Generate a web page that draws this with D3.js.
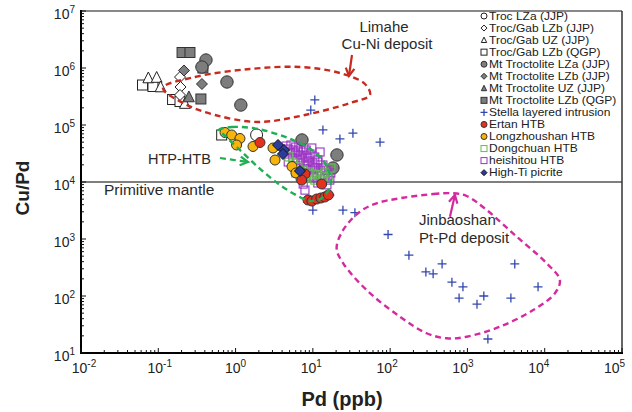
<!DOCTYPE html>
<html>
<head>
<meta charset="utf-8">
<script src="https://cdn.jsdelivr.net/npm/d3@7"></script>
<style>
  body { margin: 0; background: #fff; }
  svg { display: block; font-family: "Liberation Sans", Arial, Helvetica, sans-serif; }
</style>
</head>
<body>
<svg id="chart" width="632" height="412"></svg>
<script>
// values: [Pd (ppb), Cu/Pd]
const trocLZa = [[1.87, 6.7e4]];
const trocGabLZbJJP = [[0.191, 6.95e5], [0.194, 4.64e5], [0.191, 3.36e5]];
const trocGabUZ = [[0.0743, 6.68e5], [0.0953, 6.81e5], [0.107, 4.64e5], [0.221, 2.38e5]];
const trocGabLZbQGP = [[0.0625, 5.03e5], [0.0853, 4.74e5], [0.153, 2.8e5], [0.191, 2.58e5], [0.661, 6.68e4]];
const mtLZa = [[0.414, 1.38e6], [0.367, 1.04e6], [0.774, 5.68e5], [1.17, 2.24e5],
  [7.23, 5.46e4], [20.5, 2.98e4], [18.2, 1.76e4]];
const mtLZbJJP = [[0.215, 9.04e5], [0.367, 5.24e5]];
const mtUZ = [[0.249, 3.1e5]];
const mtLZbQGP = [[0.203, 1.87e6], [0.257, 1.87e6], [0.378, 1.0e6], [0.356, 2.86e5]];
const stella = [[10.6, 2.75e5], [9.4, 1.83e5], [13.5, 8.2e4], [22.4, 5.7e4], [33, 7.2e4], [74, 5.0e4],
  [10.0, 3.2e3], [24.5, 3.2e3], [35, 2.9e3], [16.6, 5.9e3], [94, 1.2e3], [175, 520], [290, 265],
  [360, 245], [470, 365], [630, 175], [875, 145], [780, 92], [1630, 100], [1330, 72], [4100, 365],
  [3650, 92], [8200, 145], [1840, 17.6]];
const ertan = [[2.07, 4.93e4], [7.91, 1.38e4], [13.0, 9.22e3], [8.65, 4.83e3], [9.73, 4.64e3],
  [11.2, 5.03e3], [12.7, 5.24e3], [14.3, 5.46e3], [15.9, 5.92e3], [7.16, 1.08e4]];
const longzhoushan = [[0.73, 7.38e4], [0.891, 6.68e4], [1.14, 5.8e4], [1.03, 4.46e4], [1.68, 4.2e4],
  [3.05, 3.95e4], [3.24, 2.43e4], [5.37, 1.87e4], [6.04, 1.44e4]];
const dongchuan = [[5.5, 2.15e4], [6.4, 1.83e4], [7.5, 1.62e4], [8.7, 1.5e4], [10.0, 1.38e4],
  [11.6, 1.33e4], [13.5, 1.27e4], [15.7, 1.22e4], [6.0, 1.44e4], [7.9, 1.18e4], [10.6, 1.08e4],
  [14.3, 1.44e4], [17.1, 1.76e4], [4.9, 2.75e4], [6.8, 1.27e4]];
const heishitou = [[4.5, 4.28e4], [5.2, 4.46e4], [6.0, 4.11e4], [7.0, 3.95e4], [8.2, 3.64e4],
  [9.7, 3.95e4], [5.1, 3.36e4], [5.9, 3.23e4], [6.8, 2.98e4], [7.9, 2.86e4], [9.2, 3.1e4],
  [10.6, 2.75e4], [12.4, 3.36e4], [5.5, 2.64e4], [6.4, 2.43e4], [7.5, 2.24e4], [8.7, 2.34e4],
  [10.0, 2.15e4], [11.6, 2.24e4], [13.5, 1.99e4], [4.8, 2.24e4], [6.8, 1.76e4], [8.2, 1.69e4],
  [9.4, 1.62e4], [11.0, 1.76e4], [12.7, 1.56e4], [14.8, 1.62e4], [17.1, 1.44e4], [8.9, 1.27e4],
  [10.3, 1.22e4], [12.4, 1.27e4], [14.3, 1.18e4], [16.6, 1.08e4], [7.5, 9.2e3], [11.6, 9.6e3],
  [15.2, 8.9e3], [7.9, 7.2e3], [4.76, 3.79e4], [5.53, 3.64e4], [6.41, 3.5e4], [7.45, 3.36e4],
  [8.65, 2.64e4], [11.6, 2.43e4], [10.0, 1.83e4], [13.5, 1.76e4], [15.7, 1.33e4], [11.3, 1.44e4],
  [8.39, 1.99e4], [7.23, 2.64e4]];
const highTiPicrite = [[3.54, 4.46e4], [4.23, 3.64e4], [4.1, 3.1e4], [6.81, 1.56e4]];

// field outlines, same units
const limaheField = [[0.115, 4.46e5], [0.299, 6.95e5], [1.53, 9.6e5], [6.81, 1.04e6], [22.4, 8.17e5],
  [47.2, 5.24e5], [54.8, 3.36e5], [30.2, 2.43e5], [7.91, 1.5e5], [1.95, 1.13e5], [0.542, 1.5e5],
  [0.221, 2.34e5]];
const htpField = [[0.61, 8.17e4], [0.897, 9.22e4], [1.95, 8.5e4], [4.76, 5.91e4], [9.73, 3.64e4],
  [14.8, 1.99e4], [17.1, 9.22e3], [13.1, 5.24e3], [9.17, 4.64e3], [6.41, 5.68e3], [3.75, 8.86e3],
  [1.95, 1.83e4], [1.07, 3.95e4], [0.708, 6.68e4]];
const jinbaoshanField = [[134, 5.18e3], [361, 6.15e3], [655, 6.34e3], [977, 5.68e3], [1770, 3.23e3],
  [4330, 1.1e3], [10600, 375], [15700, 191], [13500, 111], [7100, 56.8], [2630, 28.9], [977, 19.3],
  [538, 18.1], [297, 22.2], [134, 43.3], [49.7, 127], [24.7, 375], [20.3, 687], [24.7, 1440],
  [40.6, 3010], [66.8, 4230]];
const limaheArrow = [[32.1, 1.69e6], [29.3, 7.24e5]];
const htpArrow = [[0.628, 2.64e4], [1.45, 2.24e4]];
const jinbaoshanArrow = [[594, 2460], [689, 5920]];

const xTicks = [-2, -1, 0, 1, 2, 3, 4, 5];
const yTicks = [1, 2, 3, 4, 5, 6, 7];
const primitiveMantle = 1e4;

const series = [
  { name: "Troc LZa (JJP)", data: trocLZa, shape: "circle", fill: "#fff", stroke: "#222", r: 6 },
  { name: "Troc/Gab LZb (JJP)", data: trocGabLZbJJP, shape: "diamond", fill: "#fff", stroke: "#222", r: 5.5 },
  { name: "Troc/Gab UZ (JJP)", data: trocGabUZ, shape: "triangle", fill: "#fff", stroke: "#222", r: 6 },
  { name: "Troc/Gab LZb (QGP)", data: trocGabLZbQGP, shape: "square", fill: "#fff", stroke: "#222", r: 5 },
  { name: "Mt Troctolite LZa (JJP)", data: mtLZa, shape: "circle", fill: "#7d7d7d", stroke: "#333", r: 6.2 },
  { name: "Mt Troctolite LZb (JJP)", data: mtLZbJJP, shape: "diamond", fill: "#7d7d7d", stroke: "#333", r: 5.5 },
  { name: "Mt Troctolite UZ (JJP)", data: mtUZ, shape: "triangle", fill: "#7d7d7d", stroke: "#333", r: 6 },
  { name: "Mt Troctolite LZb (QGP)", data: mtLZbQGP, shape: "square", fill: "#7d7d7d", stroke: "#333", r: 5 },
  { name: "Stella layered intrusion", data: stella, shape: "plus", fill: "none", stroke: "#3347b0", r: 4.5 },
  { name: "Ertan HTB", data: ertan, shape: "circle", fill: "#e2311f", stroke: "#333", r: 5 },
  { name: "Longzhoushan HTB", data: longzhoushan, shape: "circle", fill: "#f7b40c", stroke: "#333", r: 5 },
  { name: "Dongchuan HTB", data: dongchuan, shape: "square", fill: "none", stroke: "#5cc34a", r: 4 },
  { name: "heishitou HTB", data: heishitou, shape: "square", fill: "none", stroke: "#9a34c4", r: 4 },
  { name: "High-Ti picrite", data: highTiPicrite, shape: "diamond", fill: "#2b3d9c", stroke: "#111", r: 5.5 }
];
// which series go on top of which
const drawOrder = [8, 3, 2, 1, 0, 7, 6, 5, 4, 12, 11, 10, 9, 13];

const plot = { left: 81, right: 622, top: 11, bottom: 353 };

const svg = d3.select("#chart");
const x = d3.scaleLog().domain([1e-2, 1e5]).range([plot.left, plot.right]);
const y = d3.scaleLog().domain([10, 1e7]).range([plot.bottom, plot.top]);

function marker(g, shape, cx, cy, r, fill, stroke, sw) {
    if (shape === "circle") {
        g.append("circle").attr("cx", cx).attr("cy", cy).attr("r", r)
            .attr("fill", fill).attr("stroke", stroke).attr("stroke-width", sw);
    } else if (shape === "square") {
        g.append("rect").attr("x", cx - r).attr("y", cy - r)
            .attr("width", 2 * r).attr("height", 2 * r)
            .attr("fill", fill).attr("stroke", stroke).attr("stroke-width", sw);
    } else if (shape === "diamond") {
        g.append("path")
            .attr("d", `M${cx},${cy - r}L${cx + r},${cy}L${cx},${cy + r}L${cx - r},${cy}Z`)
            .attr("fill", fill).attr("stroke", stroke).attr("stroke-width", sw);
    } else if (shape === "triangle") {
        g.append("path")
            .attr("d", `M${cx},${cy - r}L${cx + r * 0.9},${cy + r * 0.8}L${cx - r * 0.9},${cy + r * 0.8}Z`)
            .attr("fill", fill).attr("stroke", stroke).attr("stroke-width", sw);
    } else if (shape === "plus") {
        g.append("path")
            .attr("d", `M${cx - r},${cy}H${cx + r}M${cx},${cy - r}V${cy + r}`)
            .attr("fill", "none").attr("stroke", stroke).attr("stroke-width", 1.3);
    }
}

// Primitive mantle line
svg.append("line")
    .attr("x1", plot.left).attr("x2", plot.right)
    .attr("y1", y(primitiveMantle)).attr("y2", y(primitiveMantle))
    .attr("stroke", "#555").attr("stroke-width", 1.4);

// Points
const pts = svg.append("g");
drawOrder.forEach(i => {
    const s = series[i];
    s.data.forEach(d => {
        marker(pts, s.shape, x(d[0]), y(d[1]), s.r, s.fill, s.stroke, s.shape === "square" && s.fill === "none" ? 1.1 : 1);
    });
});

// Dashed field outlines
const outline = d3.line().x(d => x(d[0])).y(d => y(d[1])).curve(d3.curveCatmullRomClosed.alpha(0.5));
function field(data, color) {
    svg.append("path")
        .attr("d", outline(data))
        .attr("fill", "none")
        .attr("stroke", color)
        .attr("stroke-width", 2.4)
        .attr("stroke-dasharray", "6,4");
}
field(limaheField, "#c82a1f");
field(htpField, "#1fae52");
field(jinbaoshanField, "#d42a9e");

function arrow(data, color, dashed) {
    const [x0, y0] = [x(data[0][0]), y(data[0][1])];
    const [x1, y1] = [x(data[1][0]), y(data[1][1])];
    svg.append("line")
        .attr("x1", x0).attr("y1", y0).attr("x2", x1).attr("y2", y1)
        .attr("stroke", color).attr("stroke-width", 2.2)
        .attr("stroke-dasharray", dashed ? "6,4" : null);
    const a = Math.atan2(y1 - y0, x1 - x0);
    const len = 9, spread = 0.5;
    svg.append("path")
        .attr("d", `M${x1 - len * Math.cos(a - spread)},${y1 - len * Math.sin(a - spread)}` +
            `L${x1},${y1}L${x1 - len * Math.cos(a + spread)},${y1 - len * Math.sin(a + spread)}`)
        .attr("fill", "none").attr("stroke", color).attr("stroke-width", 2.2);
}
arrow(limaheArrow, "#c82a1f", false);
arrow(htpArrow, "#1fae52", true);
arrow(jinbaoshanArrow, "#d42a9e", false);

// Annotations
const notes = [
    { text: "Limahe", x: 384, y: 32, anchor: "middle", size: 15 },
    { text: "Cu-Ni deposit", x: 387, y: 49, anchor: "middle", size: 15 },
    { text: "HTP-HTB", x: 148, y: 164, anchor: "start", size: 14.5 },
    { text: "Primitive mantle", x: 104, y: 195, anchor: "start", size: 15.5 },
    { text: "Jinbaoshan", x: 419, y: 225, anchor: "start", size: 15 },
    { text: "Pt-Pd deposit", x: 419, y: 243, anchor: "start", size: 15 }
];
notes.forEach(n => {
    svg.append("text")
        .attr("x", n.x).attr("y", n.y)
        .attr("text-anchor", n.anchor)
        .attr("font-size", n.size)
        .attr("fill", "#2a2a2a")
        .text(n.text);
});

// Frame
svg.append("line").attr("x1", plot.left).attr("x2", plot.right).attr("y1", plot.top).attr("y2", plot.top)
    .attr("stroke", "#888").attr("stroke-width", 2);
svg.append("line").attr("x1", plot.right).attr("x2", plot.right).attr("y1", plot.top).attr("y2", plot.bottom)
    .attr("stroke", "#333").attr("stroke-width", 1.5);
svg.append("line").attr("x1", plot.left).attr("x2", plot.left).attr("y1", plot.top - 1).attr("y2", plot.bottom + 1)
    .attr("stroke", "#000").attr("stroke-width", 2);
svg.append("line").attr("x1", plot.left - 1).attr("x2", plot.right + 1).attr("y1", plot.bottom).attr("y2", plot.bottom)
    .attr("stroke", "#000").attr("stroke-width", 2);

// Ticks (inside)
const ticks = svg.append("g").attr("stroke", "#111").attr("stroke-width", 1);
xTicks.forEach((e, k) => {
    ticks.append("line").attr("x1", x(10 ** e)).attr("x2", x(10 ** e))
        .attr("y1", plot.bottom).attr("y2", plot.bottom - 5);
    if (k < xTicks.length - 1) {
        for (let m = 2; m <= 9; m++) {
            const v = x(m * 10 ** e);
            ticks.append("line").attr("x1", v).attr("x2", v)
                .attr("y1", plot.bottom).attr("y2", plot.bottom - 3);
        }
    }
});
yTicks.forEach((e, k) => {
    ticks.append("line").attr("y1", y(10 ** e)).attr("y2", y(10 ** e))
        .attr("x1", plot.left).attr("x2", plot.left + 5);
    if (k < yTicks.length - 1) {
        for (let m = 2; m <= 9; m++) {
            const v = y(m * 10 ** e);
            ticks.append("line").attr("y1", v).attr("y2", v)
                .attr("x1", plot.left).attr("x2", plot.left + 3);
        }
    }
});

// Tick labels
function powerLabel(px, py, e, anchor) {
    const t = svg.append("text")
        .attr("x", px).attr("y", py)
        .attr("text-anchor", anchor)
        .attr("font-size", 14)
        .attr("fill", "#222");
    t.append("tspan").text("10");
    t.append("tspan").attr("dy", -6).attr("font-size", 10).text(e);
}
// labels drift slightly left of their ticks towards the right end, as in the figure
xTicks.forEach((e, k) => powerLabel(x(10 ** e) + 3 - 1.5 * k, 373, e, "middle"));
yTicks.forEach(e => powerLabel(75, y(10 ** e) + 8, e, "end"));

// Axis titles
svg.append("text")
    .attr("x", 342).attr("y", 406)
    .attr("text-anchor", "middle")
    .attr("font-size", 20).attr("font-weight", "bold")
    .attr("fill", "#222")
    .text("Pd (ppb)");
svg.append("text")
    .attr("transform", "translate(29,188) rotate(-90)")
    .attr("text-anchor", "middle")
    .attr("font-size", 19).attr("font-weight", "bold")
    .attr("fill", "#222")
    .text("Cu/Pd");

// Legend: rows are tight, so the text is set a bit smaller and stretched to the width it has at 12px
const legend = svg.append("g");
series.forEach((s, i) => {
    const ly = 16 + i * 12.05;
    marker(legend, s.shape, 484, ly, s.shape === "plus" ? 3.5 : 3, s.fill, s.stroke, 1);
    const label = legend.append("text")
        .attr("x", 489).attr("y", ly + 4.3)
        .attr("font-size", 12)
        .attr("fill", "#222")
        .text(s.name);
    const w = label.node().getComputedTextLength();
    label.attr("font-size", 10.4)
        .attr("textLength", w)
        .attr("lengthAdjust", "spacingAndGlyphs")
        .attr("y", ly + 3.8);
});
</script>
</body>
</html>
